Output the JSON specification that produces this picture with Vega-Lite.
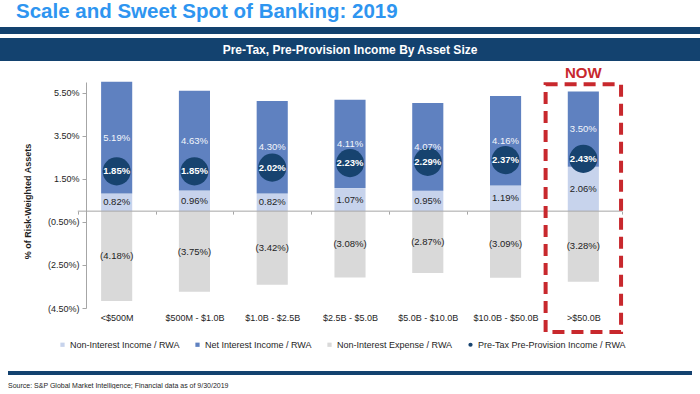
{
  "$schema": "https://vega.github.io/schema/vega-lite/v6.json",
  "padding": {"top": 2, "left": 0, "right": 0, "bottom": 0},
  "background": "white",
  "config": {"font": "Liberation Sans", "view": {"stroke": null}},
  "title": {"text": "Scale and Sweet Spot of Banking: 2019", "anchor": "start", "dx": 16, "offset": 2, "fontSize": 20.5, "fontWeight": "bold", "color": "#2E95F0", "font": "Liberation Sans"},
  "bounds": "flush",
  "spacing": 4,
  "center": true,
  "datasets": {
    "bank": [
      {"size": "<$500M", "series": "Non-Interest Income / RWA", "value": 0.0082},
      {"size": "<$500M", "series": "Net Interest Income / RWA", "value": 0.0519},
      {"size": "<$500M", "series": "Non-Interest Expense / RWA", "value": -0.0418},
      {"size": "<$500M", "series": "Pre-Tax Pre-Provision Income / RWA", "value": 0.0185},
      {"size": "$500M - $1.0B", "series": "Non-Interest Income / RWA", "value": 0.0096},
      {"size": "$500M - $1.0B", "series": "Net Interest Income / RWA", "value": 0.0463},
      {"size": "$500M - $1.0B", "series": "Non-Interest Expense / RWA", "value": -0.0375},
      {"size": "$500M - $1.0B", "series": "Pre-Tax Pre-Provision Income / RWA", "value": 0.0185},
      {"size": "$1.0B - $2.5B", "series": "Non-Interest Income / RWA", "value": 0.0082},
      {"size": "$1.0B - $2.5B", "series": "Net Interest Income / RWA", "value": 0.0430},
      {"size": "$1.0B - $2.5B", "series": "Non-Interest Expense / RWA", "value": -0.0342},
      {"size": "$1.0B - $2.5B", "series": "Pre-Tax Pre-Provision Income / RWA", "value": 0.0202},
      {"size": "$2.5B - $5.0B", "series": "Non-Interest Income / RWA", "value": 0.0107},
      {"size": "$2.5B - $5.0B", "series": "Net Interest Income / RWA", "value": 0.0411},
      {"size": "$2.5B - $5.0B", "series": "Non-Interest Expense / RWA", "value": -0.0308},
      {"size": "$2.5B - $5.0B", "series": "Pre-Tax Pre-Provision Income / RWA", "value": 0.0223},
      {"size": "$5.0B - $10.0B", "series": "Non-Interest Income / RWA", "value": 0.0095},
      {"size": "$5.0B - $10.0B", "series": "Net Interest Income / RWA", "value": 0.0407},
      {"size": "$5.0B - $10.0B", "series": "Non-Interest Expense / RWA", "value": -0.0287},
      {"size": "$5.0B - $10.0B", "series": "Pre-Tax Pre-Provision Income / RWA", "value": 0.0229},
      {"size": "$10.0B - $50.0B", "series": "Non-Interest Income / RWA", "value": 0.0119},
      {"size": "$10.0B - $50.0B", "series": "Net Interest Income / RWA", "value": 0.0416},
      {"size": "$10.0B - $50.0B", "series": "Non-Interest Expense / RWA", "value": -0.0309},
      {"size": "$10.0B - $50.0B", "series": "Pre-Tax Pre-Provision Income / RWA", "value": 0.0237},
      {"size": ">$50.0B", "series": "Non-Interest Income / RWA", "value": 0.0206},
      {"size": ">$50.0B", "series": "Net Interest Income / RWA", "value": 0.0350},
      {"size": ">$50.0B", "series": "Non-Interest Expense / RWA", "value": -0.0328},
      {"size": ">$50.0B", "series": "Pre-Tax Pre-Provision Income / RWA", "value": 0.0243}
    ]
  },
  "vconcat": [
    {
      "width": 700, "height": 7,
      "view": {"fill": "#13426F", "stroke": null},
      "data": {"values": [{}]},
      "mark": {"type": "text", "text": ""},
      "encoding": {}
    },
    {
      "width": 700, "height": 23,
      "view": {"fill": "#13426F", "stroke": null},
      "data": {"values": [{"t": "Pre-Tax, Pre-Provision Income  By Asset Size"}]},
      "mark": {"type": "text", "color": "white", "fontWeight": "bold", "fontSize": 12, "font": "Liberation Sans"},
      "encoding": {"text": {"field": "t"}}
    },
    {
      "width": 700, "height": 13,
      "data": {"values": [{}]},
      "mark": {"type": "text", "text": ""},
      "encoding": {}
    },
    {
      "width": 700, "height": 226,
      "data": {"name": "bank"},
      "layer": [
        {
          "transform": [{"filter": "datum.series !== 'Pre-Tax Pre-Provision Income / RWA'"}],
          "mark": {"type": "bar", "width": {"band": 0.4}},
          "encoding": {
            "x": {"field": "size", "type": "nominal",
              "scale": {"domain": ["<$500M", "$500M - $1.0B", "$1.0B - $2.5B", "$2.5B - $5.0B", "$5.0B - $10.0B", "$10.0B - $50.0B", ">$50.0B"], "paddingInner": 0, "paddingOuter": 1.105},
              "axis": {"title": null, "offset": -96.9, "domain": false, "ticks": true, "tickBand": "extent", "tickSize": 3, "tickColor": "#A6A6A6", "labelPadding": 99, "labelFontSize": 9, "labelAngle": 0, "labelColor": "#1E1E1E", "labelFont": "Liberation Sans"}},
            "y": {"field": "value", "type": "quantitative", "stack": "zero",
              "scale": {"domain": [-0.045, 0.06], "nice": false, "zero": false},
              "axis": {"values": [-0.045, -0.025, -0.005, 0.015, 0.035, 0.055], "format": "(.2%", "offset": -86, "grid": false, "domainColor": "#A6A6A6", "tickColor": "#A6A6A6", "tickSize": 4, "labelPadding": 3, "labelFontSize": 9, "labelColor": "#1E1E1E", "labelFont": "Liberation Sans", "title": "% of Risk-Weighted Assets", "titleFontSize": 9, "titleFontWeight": "bold", "titleColor": "#1E1E1E", "titleFont": "Liberation Sans", "titleX": -59, "titleY": 119, "titleBaseline": "middle", "titleAlign": "center", "titleAngle": -90}},
            "color": {"field": "series", "type": "nominal",
              "scale": {"domain": ["Non-Interest Income / RWA", "Net Interest Income / RWA", "Non-Interest Expense / RWA", "Pre-Tax Pre-Provision Income / RWA"], "range": ["#C7D3EC", "#5F81C0", "#D9D9D9", "#17436F"]},
              "legend": {"orient": "none", "legendX": 58, "legendY": 313, "direction": "horizontal", "title": null, "padding": 0, "symbolSize": 18, "symbolStrokeWidth": 0, "labelFontSize": 9, "labelFont": "Liberation Sans", "labelColor": "#1E1E1E", "labelOffset": 3, "columnPadding": 13,
                "encode": {"symbols": {"update": {"shape": {"signal": "datum.value === 'Pre-Tax Pre-Provision Income / RWA' ? 'circle' : 'square'"}}}}}},
            "order": {"field": "series", "sort": "descending"}
          }
        },
        {
          "data": {"values": [{}]},
          "mark": {"type": "rule", "color": "#A6A6A6", "strokeWidth": 1},
          "encoding": {
            "x": {"datum": "<$500M", "bandPosition": 0},
            "x2": {"datum": ">$50.0B", "bandPosition": 1},
            "y": {"datum": 0}
          }
        },
        {
          "transform": [{"filter": "datum.series === 'Pre-Tax Pre-Provision Income / RWA'"}],
          "mark": {"type": "point", "filled": true, "size": 790, "opacity": 1, "strokeWidth": 0},
          "encoding": {
            "x": {"field": "size", "type": "nominal"},
            "y": {"field": "value", "type": "quantitative"},
            "color": {"field": "series", "type": "nominal"}
          }
        },
        {
          "transform": [{"filter": "datum.series === 'Pre-Tax Pre-Provision Income / RWA'"}],
          "mark": {"type": "text", "color": "white", "fontWeight": "bold", "fontSize": 9.5, "font": "Liberation Sans"},
          "encoding": {
            "x": {"field": "size", "type": "nominal"},
            "y": {"field": "value", "type": "quantitative"},
            "text": {"field": "value", "type": "quantitative", "format": "(.2%"}
          }
        },
        {
          "transform": [
            {"filter": "datum.series !== 'Pre-Tax Pre-Provision Income / RWA'"},
            {"stack": "value", "groupby": ["size"], "sort": [{"field": "series", "order": "descending"}], "as": ["y0", "y1"]},
            {"fold": ["y0", "y1"], "as": ["k", "v"]},
            {"aggregate": [{"op": "mean", "field": "v", "as": "mid"}, {"op": "min", "field": "value", "as": "val"}], "groupby": ["size", "series"]}
          ],
          "mark": {"type": "text", "fontSize": 9.5, "font": "Liberation Sans"},
          "encoding": {
            "x": {"field": "size", "type": "nominal"},
            "y": {"field": "mid", "type": "quantitative"},
            "text": {"field": "val", "type": "quantitative", "format": "(.2%"},
            "color": {"condition": {"test": "datum.series === 'Net Interest Income / RWA'", "value": "#F4F6FB"}, "value": "#1E1E1E"}
          }
        },
        {
          "data": {"values": [{}]},
          "mark": {"type": "bar", "filled": false, "color": "#C8282D", "strokeWidth": 4, "strokeDash": [12, 7], "width": {"band": 0.97}},
          "encoding": {
            "x": {"datum": ">$50.0B"},
            "y": {"datum": 0.059},
            "y2": {"datum": -0.0562}
          }
        },
        {
          "data": {"values": [{}]},
          "mark": {"type": "text", "text": "NOW", "fontSize": 15, "fontWeight": "bold", "color": "#C8282D", "font": "Liberation Sans"},
          "encoding": {
            "x": {"datum": ">$50.0B"},
            "y": {"datum": 0.0642}
          }
        }
      ]
    },
    {
      "width": 700, "height": 55,
      "data": {"values": [{}]},
      "mark": {"type": "text", "text": ""},
      "encoding": {}
    },
    {
      "width": 684, "height": 4,
      "view": {"fill": "#13426F", "stroke": null},
      "data": {"values": [{}]},
      "mark": {"type": "text", "text": ""},
      "encoding": {},
      "title": {"text": "Source: S&P Global Market Intelligence; Financial data as of 9/30/2019", "orient": "bottom", "anchor": "start", "fontSize": 7, "fontWeight": "normal", "color": "#1E1E1E", "offset": 4, "font": "Liberation Sans"}
    }
  ]
}
